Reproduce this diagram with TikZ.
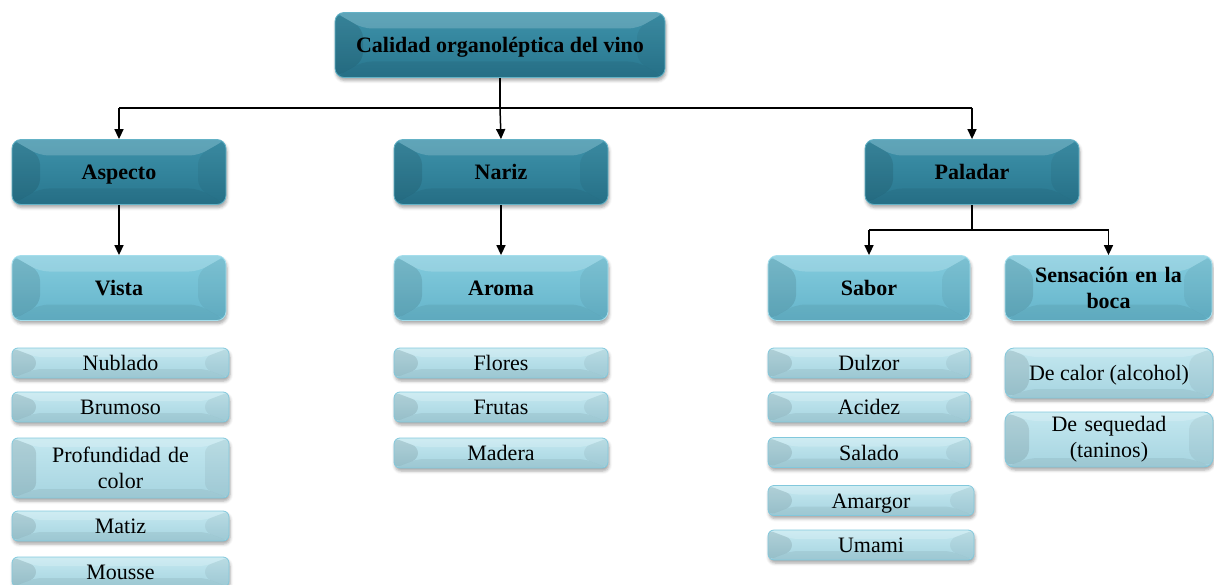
\documentclass[tikz,border=0pt]{standalone}
\usepackage{fontspec}
\setmainfont{Liberation Serif}
\usetikzlibrary{arrows.meta,shadows.blur}

\definecolor{deepTop}{RGB}{62,146,170}
\definecolor{deepBot}{RGB}{40,118,142}
\definecolor{deepEdge}{RGB}{100,178,198}
\definecolor{midTop}{RGB}{132,204,222}
\definecolor{midBot}{RGB}{100,180,202}
\definecolor{midEdge}{RGB}{165,222,236}
\definecolor{paleTop}{RGB}{196,232,240}
\definecolor{paleBot}{RGB}{166,212,224}
\definecolor{paleEdge}{RGB}{130,200,220}

\tikzset{
  % bevelled face: darker side bands, lighter top band
  bevel/.style 2 args={path picture={
    \fill[black,opacity=.10] (path picture bounding box.south west) -- (path picture bounding box.north west)
      -- ([shift={(#1,-#2)}]path picture bounding box.north west) -- ([shift={(#1,#2)}]path picture bounding box.south west) -- cycle;
    \fill[black,opacity=.05] (path picture bounding box.south east) -- (path picture bounding box.north east)
      -- ([shift={(-#1,-#2)}]path picture bounding box.north east) -- ([shift={(-#1,#2)}]path picture bounding box.south east) -- cycle;
    \fill[white,opacity=.18] (path picture bounding box.north west) -- (path picture bounding box.north east)
      -- ([shift={(-#1,-#2)}]path picture bounding box.north east) -- ([shift={(#1,-#2)}]path picture bounding box.north west) -- cycle;
    \fill[black,opacity=.06] (path picture bounding box.south west) -- (path picture bounding box.south east)
      -- ([shift={(-#1,#2)}]path picture bounding box.south east) -- ([shift={(#1,#2)}]path picture bounding box.south west) -- cycle;
  }},
  card/.style={rounded corners=9pt, align=center, inner sep=2pt, line width=0.8pt,
    blur shadow={shadow xshift=1pt, shadow yshift=-3pt, shadow blur radius=3pt, shadow opacity=35},
    text height=18pt, text depth=3pt,
    font=\fontsize{22}{26}\selectfont},
  twoline/.style={text height={}, text depth={}},
  headbox/.style={card, draw=deepEdge, top color=deepTop, bottom color=deepBot,
    bevel={28pt}{16pt}, font=\fontsize{22}{26}\selectfont\bfseries},
  subbox/.style={card, draw=midEdge, top color=midTop, bottom color=midBot,
    bevel={28pt}{16pt}, font=\fontsize{22}{26}\selectfont\bfseries},
  itembox/.style={card, rounded corners=6pt, draw=paleEdge, top color=paleTop, bottom color=paleBot,
    bevel={24pt}{9pt}},
  link/.style={line width=1.5pt, black},
  arr/.style={link, -{Triangle[length=10pt,width=9pt]}}
}

\begin{document}
\begin{tikzpicture}[x=1pt,y=1pt]
\useasboundingbox (0,0) rectangle (1214,-585);

% root
\node[headbox, minimum width=330pt, minimum height=65pt] (root) at (500,-45) {Calidad organoléptica del vino};

% first level
\node[headbox, minimum width=214pt, minimum height=65pt] (asp) at (119,-172) {Aspecto};
\node[headbox, minimum width=214pt, minimum height=65pt] (nar) at (501,-172) {Nariz};
\node[headbox, minimum width=214pt, minimum height=65pt] (pal) at (972,-172) {Paladar};

% second level
\node[subbox, minimum width=214pt, minimum height=65pt] (vis) at (119,-288) {Vista};
\node[subbox, minimum width=214pt, minimum height=65pt] (aro) at (501,-288) {Aroma};
\node[subbox, minimum width=202pt, minimum height=65pt] (sab) at (869,-288) {Sabor};
\node[subbox, twoline, minimum width=207pt, minimum height=65pt, text width=190pt] (sen) at (1108.5,-288) {Sensación en la\\boca};

% Vista items
\node[itembox, minimum width=217pt, minimum height=30pt] (v1) at (120.5,-363) {Nublado};
\node[itembox, minimum width=217pt, minimum height=30pt] (v2) at (120.5,-407) {Brumoso};
\node[itembox, twoline, minimum width=217pt, minimum height=60pt, text width=200pt] (v3) at (120.5,-468) {Profundidad de\\color};
\node[itembox, minimum width=217pt, minimum height=30pt] (v4) at (120.5,-526) {Matiz};
\node[itembox, minimum width=217pt, minimum height=30pt] (v5) at (120.5,-572) {Mousse};

% Aroma items
\node[itembox, minimum width=214pt, minimum height=30pt] (a1) at (501,-363) {Flores};
\node[itembox, minimum width=214pt, minimum height=30pt] (a2) at (501,-407) {Frutas};
\node[itembox, minimum width=214pt, minimum height=30pt] (a3) at (501,-453) {Madera};

% Sabor items
\node[itembox, minimum width=202pt, minimum height=30pt] (s1) at (869,-363) {Dulzor};
\node[itembox, minimum width=202pt, minimum height=30pt] (s2) at (869,-407) {Acidez};
\node[itembox, minimum width=202pt, minimum height=30pt] (s3) at (869,-452.5) {Salado};
\node[itembox, minimum width=206pt, minimum height=30pt] (s4) at (871,-500.5) {Amargor};
\node[itembox, minimum width=206pt, minimum height=30pt] (s5) at (871,-545) {Umami};

% Sensacion items
\node[itembox, rounded corners=9pt, minimum width=208pt, minimum height=50pt] (c1) at (1109,-373) {De calor (alcohol)};
\node[itembox, twoline, rounded corners=9pt, minimum width=208pt, minimum height=55pt, text width=190pt] (c2) at (1109,-439.5) {De sequedad\\(taninos)};

% connectors
\coordinate (j1) at (500,-108);
\coordinate (j2) at (972,-230);
\draw[link] (root.south) -- (j1);
\draw[link] (asp.north |- j1) -- (pal.north |- j1);
\draw[arr] (asp.north |- j1) -- (asp.north);
\draw[arr] (j1) -- (nar.north);
\draw[arr] (pal.north |- j1) -- (pal.north);
\draw[arr] (asp.south) -- (vis.north);
\draw[arr] (nar.south) -- (aro.north);
\draw[link] (pal.south) -- (j2);
\draw[link] (sab.north |- j2) -- (sen.north |- j2);
\draw[arr] (sab.north |- j2) -- (sab.north);
\draw[arr] (sen.north |- j2) -- (sen.north);
\end{tikzpicture}
\end{document}
